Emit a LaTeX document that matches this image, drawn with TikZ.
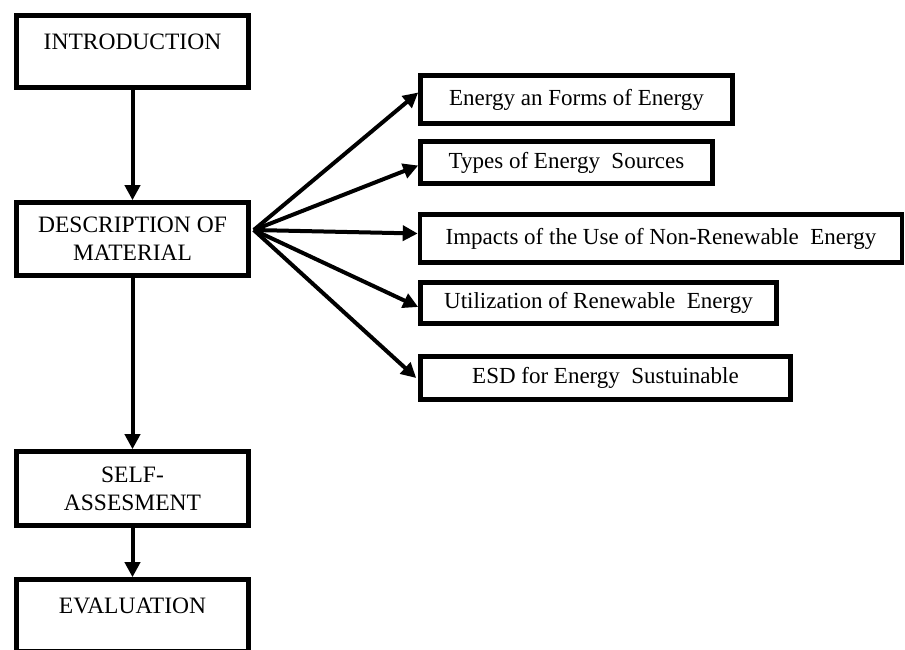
\documentclass[tikz,border=0pt]{standalone}
\usepackage{fontspec}
\setmainfont{Liberation Serif}
\usetikzlibrary{arrows.meta}

\begin{document}
\begin{tikzpicture}[x=1pt, y=-1pt,
  stage/.style={draw, line width=4.6pt, inner sep=0pt, align=center, minimum width=232pt, font=\fontsize{23.5}{28}\selectfont},
  topic/.style={draw, line width=4.6pt, inner sep=0pt, align=center, font=\fontsize{23}{27}\selectfont},
  link/.style={line width=4pt, -{Triangle[length=15pt, width=15pt]}}]
\useasboundingbox (0,0) rectangle (905,649);
\node[stage, minimum height=72pt, text depth=19pt] (intro) at (132.5,51.5) {INTRODUCTION};
\node[stage, minimum height=73pt] (desc) at (132.5,239) {DESCRIPTION OF\\MATERIAL};
\node[stage, minimum height=74pt] (self) at (132.5,488.5) {SELF-\\ASSESMENT};
\node[stage, minimum height=72pt, text depth=19pt] (eval) at (132.5,615.5) {EVALUATION};
\node[topic, minimum width=312pt, minimum height=48pt] (forms) at (576.5,99.5) {Energy an Forms of Energy};
\node[topic, minimum width=292pt, minimum height=42pt] (types) at (566.5,162.5) {Types of Energy\ \ Sources};
\node[topic, minimum width=482pt, minimum height=48pt] (impacts) at (661,238.5) {Impacts of the Use of Non-Renewable\ \ Energy};
\node[topic, minimum width=356pt, minimum height=41pt] (renew) at (598.5,303) {Utilization of Renewable\ \ Energy};
\node[topic, minimum width=370pt, minimum height=43pt] (esd) at (605.5,378) {ESD for Energy\ \ Sustuinable};
\coordinate (hub) at ([xshift=3pt, yshift=9pt]desc.east);
\draw[link] (intro) -- (desc);
\draw[link] (desc) -- (self);
\draw[link] (self) -- (eval);
\draw[link] (hub) -- ([yshift=7pt]forms.west);
\draw[link] (hub) -- ([yshift=-3pt]types.west);
\draw[link] (hub) -- ([yshift=5pt]impacts.west);
\draw[link] (hub) -- ([yshift=-4pt]renew.west);
\draw[link] (hub) -- ([xshift=-2pt]esd.west);
\end{tikzpicture}
\end{document}
